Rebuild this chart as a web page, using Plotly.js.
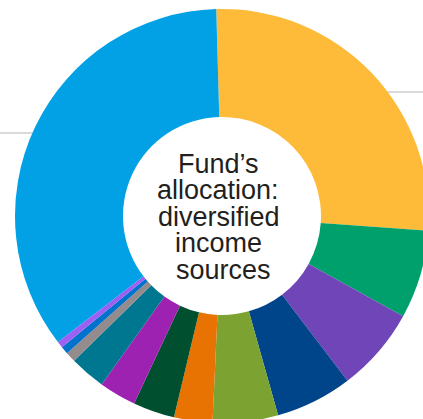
<!DOCTYPE html>
<html>
<head>
<meta charset="utf-8">
<script src="https://cdn.plot.ly/plotly-3.0.1.min.js"></script>
<style>
html, body { margin: 0; padding: 0; overflow: hidden; background: #ffffff; width: 423px; height: 419px; }
#chart { position: absolute; left: 0; top: 0; width: 444px; height: 432px; }
</style>
</head>
<body>
<div id="chart"></div>
<script>
// Data (percent of fund allocation, clockwise from 12 o'clock)
var categories = [
  "Income source 1", "Income source 2", "Income source 3", "Income source 4",
  "Income source 5", "Income source 6", "Income source 7", "Income source 8",
  "Income source 9", "Income source 10", "Income source 11", "Income source 12",
  "Income source 13"
];
var allocation = [26.6, 6.9, 6.6, 6.0, 5.1, 3.0, 3.25, 2.9, 2.8, 0.8, 0.6, 0.5, 35.0];
var sliceColors = [
  "#FDBB39", "#00A06D", "#7045B8", "#00458A", "#7CA231", "#E87302", "#004F2E",
  "#9E22B1", "#007790", "#948C8C", "#0072CC", "#9D60F2", "#02A0E4"
];
var centerLines = ["Fund\u2019s", "allocation:", "diversified", "income", "sources"];

// Layout geometry (pixels in the 444x432 drawing area)
var W = 444, H = 432;
var cx = 222, cy = 216, R = 207, holeR = 99;
var lineCentersY = [163.7, 190.4, 216.9, 243.4, 269.8];
var lineCentersX = [218.5, 218, 218.5, 218.5, 223.5];

var annotations = centerLines.map(function (t, i) {
  return {
    text: t,
    x: lineCentersX[i] / W, y: (H - lineCentersY[i]) / H,
    xref: "paper", yref: "paper",
    xanchor: "center", yanchor: "middle",
    showarrow: false,
    font: { family: "Liberation Sans, Arial, sans-serif", size: 27, color: "#231F20" }
  };
});

var trace = {
  type: "pie",
  labels: categories,
  values: allocation,
  marker: { colors: sliceColors, line: { width: 0 } },
  hole: holeR / R,
  sort: false,
  direction: "clockwise",
  rotation: -1.6,
  textinfo: "none",
  hoverinfo: "label+percent",
  showlegend: false,
  domain: { x: [(cx - R) / W, (cx + R) / W], y: [(H - cy - R) / H, (H - cy + R) / H] }
};

var layout = {
  width: W, height: H,
  margin: { l: 0, r: 0, t: 0, b: 0, pad: 0 },
  paper_bgcolor: "#ffffff",
  plot_bgcolor: "#ffffff",
  showlegend: false,
  annotations: annotations,
  shapes: [
    { type: "line", xref: "paper", yref: "paper", layer: "below",
      x0: 0, x1: 120 / W, y0: (H - 133) / H, y1: (H - 133) / H,
      line: { color: "#DADADA", width: 2 } },
    { type: "line", xref: "paper", yref: "paper", layer: "below",
      x0: 330 / W, x1: 1, y0: (H - 92) / H, y1: (H - 92) / H,
      line: { color: "#DADADA", width: 2 } }
  ]
};

Plotly.newPlot("chart", [trace], layout, { displayModeBar: false, staticPlot: true });
</script>
</body>
</html>
